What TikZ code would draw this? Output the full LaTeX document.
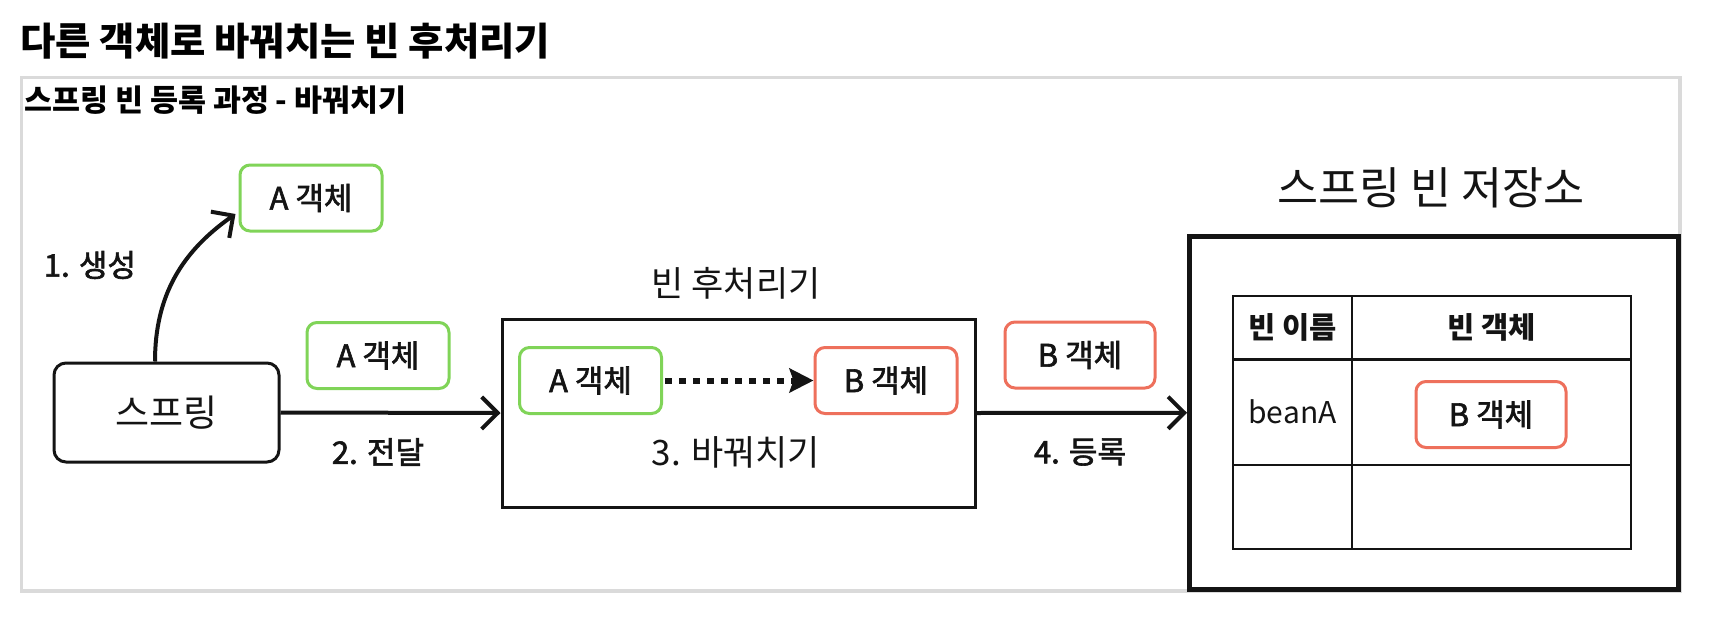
\documentclass[tikz,border=0pt]{standalone}
\usepackage{fontspec}
\setmainfont{Noto Sans CJK KR}
\newfontfamily\krmed[FakeBold=2]{Noto Sans CJK KR}
\usetikzlibrary{arrows.meta,calc}
\definecolor{objgreen}{RGB}{128,212,88}
\definecolor{objred}{RGB}{238,112,92}
\definecolor{framegray}{RGB}{218,218,218}
\definecolor{ink}{RGB}{20,20,20}
\newcommand{\myfs}[1]{\fontsize{#1}{#1}\selectfont}
\begin{document}
\begin{tikzpicture}[x=0.5pt,y=-0.5pt,
  obj/.style={draw, line width=1.5pt, rounded corners=5pt, minimum width=71pt, minimum height=33pt, inner sep=0pt, text=ink, font={\krmed\myfs{15.5pt}}},
  objA/.style={obj, draw=objgreen},
  objB/.style={obj, draw=objred, minimum width=75pt},
  flow/.style={line width=2pt, draw=ink, -{Straight Barb[length=8pt,width=16pt]}},
  lbl/.style={inner sep=0pt, text=ink, font={\krmed\myfs{15.5pt}}},
  biglbl/.style={inner sep=0pt, text=ink, font={\myfs{17.5pt}}},
  hdr/.style={inner sep=0pt, text=ink, font={\myfs{14.8pt}\bfseries}},
  tline/.style={draw=ink}
]
\useasboundingbox (0,0) rectangle (1710,632);
\fill[white] (0,0) rectangle (1710,632);

% titles
\node[anchor=west, inner sep=0pt, font={\myfs{19.2pt}\bfseries}] (title) at (20,41) {다른 객체로 바꿔치는 빈 후처리기};
\draw[framegray, line width=1.75pt] (21.5,77.5) rectangle (1680,591);
\node[anchor=west, inner sep=0pt, font={\myfs{15.2pt}\bfseries}] (subtitle) at (24,100) {스프링 빈 등록 과정 - 바꿔치기};

% spring
\node[draw=ink, line width=1.5pt, rounded corners=6pt, minimum width=112.5pt, minimum height=49.5pt, inner sep=0pt, text=ink, font={\myfs{18.5pt}}] (spring) at (166.5,412.5) {스프링};

% A objects
\node[objA] (atop) at (311,198) {A 객체};
\node[objA] (amid) at (378,355.5) {A 객체};
\node[lbl] (l1) at (90,265) {1. 생성};
\node[lbl] (l2) at (378,452) {2. 전달};

% bean post processor
\node[draw=ink, line width=1.5pt, minimum width=236.5pt, minimum height=94pt] (pp) at (738.5,413) {};
\node[biglbl] (pptitle) at (736,283) {빈 후처리기};
\node[objA] (ain) at (590.5,380.5) {A 객체};
\node[objB, minimum width=71pt] (bin) at (886,380.5) {B 객체};
\node[biglbl] (l3) at (736,452) {3. 바꿔치기};

% B object on way
\node[objB] (btop) at (1080,355) {B 객체};
\node[lbl] (l4) at (1080,452) {4. 등록};

% storage
\node[draw=ink, line width=2.5pt, minimum width=244.25pt, minimum height=176.25pt] (store) at (1433.75,412.75) {};
\node[inner sep=0pt, text=ink, font={\myfs{22.3pt}}] (storetitle) at (1431,188) {스프링 빈 저장소};

% table
\draw[ink, line width=1pt] (1233,296) rectangle (1631,549);
\draw[ink, line width=1.5pt] (1233,359) -- (1631,359);
\draw[ink, line width=0.7pt] (1233,465) -- (1631,465);
\draw[ink, line width=0.65pt] (1352,296) -- (1352,549);
\node[hdr] (h1) at (1292.5,327.5) {빈 이름};
\node[hdr] (h2) at (1491.5,327.5) {빈 객체};
\node[inner sep=0pt, text=ink, font={\myfs{15pt}}] (beana) at (1292.5,412) {beanA};
\node[objB] (btab) at (1491,414.5) {B 객체};

% connectors
\draw[flow] ([xshift=-5.75pt]spring.north) to[out=90, in=215] ([xshift=-1.5pt,yshift=-8pt]atop.west);
\draw[flow] (spring.east) -- (pp.west);
\draw[flow] (pp.east) -- (store.west);
\draw[ink, line width=3pt, dash pattern=on 3.5pt off 3.5pt, -{Stealth[length=12pt,width=12pt,inset=2pt]}] ([xshift=1pt]ain.east) -- (bin.west);
\end{tikzpicture}
\end{document}
